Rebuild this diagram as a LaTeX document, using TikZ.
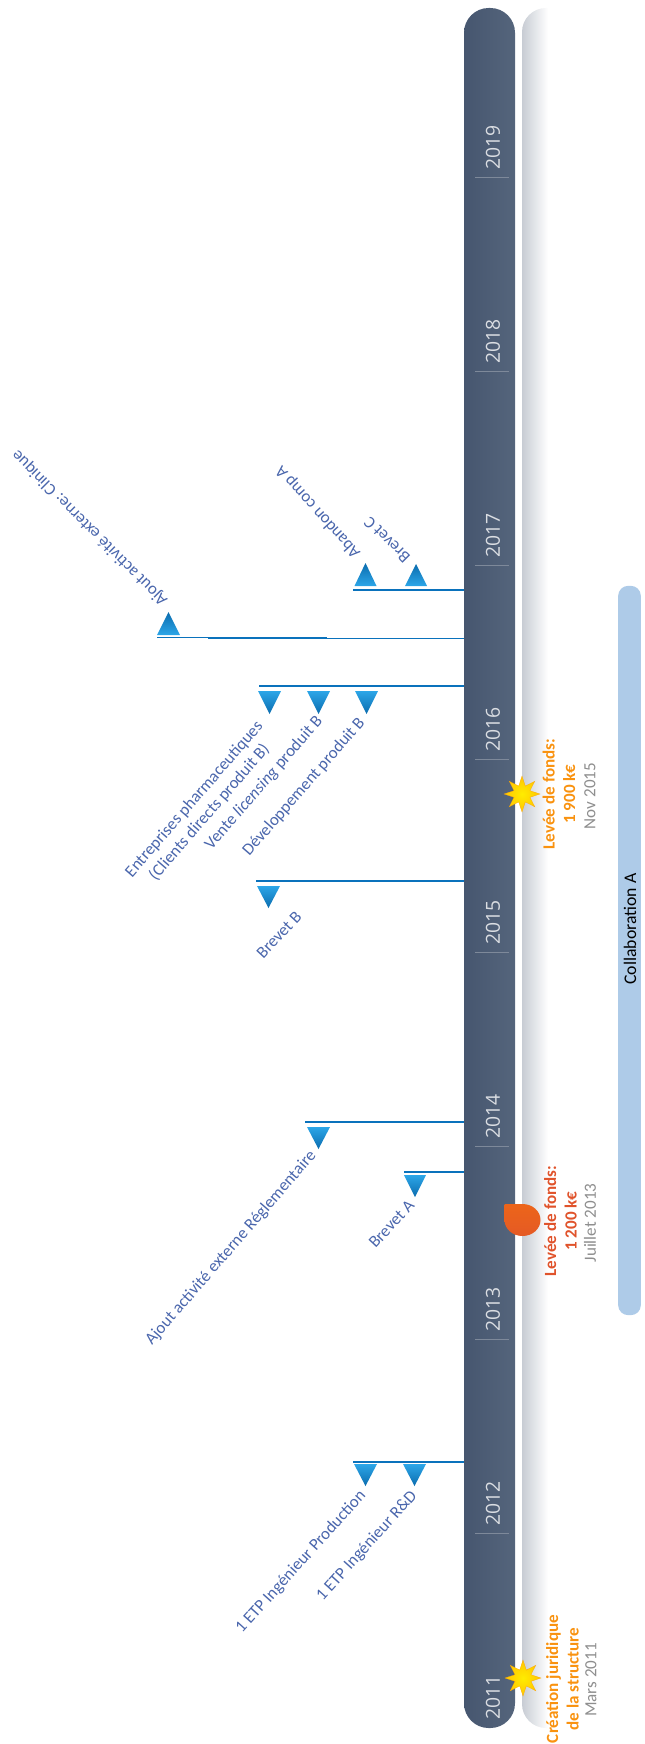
\documentclass[tikz,border=0pt]{standalone}
\usepackage{fontspec}
\setmainfont{Carlito}
\newfontfamily\yearfont{Open Sans}
\usetikzlibrary{shapes}
\usetikzlibrary{shapes.geometric}
\usetikzlibrary{calc}
\definecolor{barleft}{HTML}{46566F}
\definecolor{barright}{HTML}{55657C}
\definecolor{evblue}{HTML}{0A72BC}
\definecolor{evtext}{HTML}{4A66AC}
\definecolor{triLight}{HTML}{2CA6E8}
\definecolor{triDark}{HTML}{0B6CAE}
\definecolor{fundorange}{HTML}{F9920F}
\definecolor{fundred}{HTML}{E0532B}
\definecolor{dategrey}{HTML}{8E8E8E}
\definecolor{collab}{HTML}{AECBE8}
\tikzset{
  yearlabel/.style={rotate=90,text=white!80!barleft,font=\yearfont\fontsize{14.5}{16}\selectfont,inner sep=0pt,anchor=west},
  yeartick/.style={draw=white!30!barleft,line width=.5pt},
  evline/.style={draw=evblue,line width=1.1pt},
  evlabel/.style={text=evtext,font=\fontsize{12.65}{15}\selectfont,align=center,inner sep=0pt},
  tridown/.style={top color=triLight,bottom color=triDark},
  triup/.style={top color=triDark,bottom color=triLight},
  fundlabel/.style={rotate=90,font=\bfseries\fontsize{12.8}{15.4}\selectfont,align=center,inner sep=0pt},
  datelabel/.style={rotate=90,text=dategrey,font=\fontsize{12.8}{15}\selectfont,inner sep=0pt},
  burst/.style={star,star points=8,star point ratio=2.1,minimum size=27pt,inner sep=0pt,inner color=yellow!85!orange,outer color=orange!45!yellow,draw=orange!70!yellow,line width=.2pt}
}
\begin{document}
\begin{tikzpicture}[x=.75pt,y=-.75pt]
\useasboundingbox (0,0) rectangle (645,1744);
\shade[left color=white!70!barleft,right color=white,rounded corners=18pt] (548,8) -- (522,8) -- (522,1728) [sharp corners] -- (548,1728) -- cycle;
\node[rectangle,rounded corners=18.5pt,left color=barleft,right color=barright,minimum width=38.25pt,minimum height=1290pt,inner sep=0pt] (bar) at (489.5,868) {};
\node[rectangle,rounded corners=7.5pt,fill=collab,minimum width=17pt,minimum height=547pt,inner sep=0pt] (collabbar) at (629.5,950.5) {};
\node[rotate=90,font=\fontsize{13.3}{15}\selectfont] (collabtext) at (630,929) {Collaboration A};

\node[yearlabel] (y2011) at (493,1720) {2011};
\node[yearlabel] (y2012) at (493,1526) {2012};
\node[yearlabel] (y2013) at (493,1332) {2013};
\node[yearlabel] (y2014) at (493,1139) {2014};
\node[yearlabel] (y2015) at (493,945) {2015};
\node[yearlabel] (y2016) at (493,752) {2016};
\node[yearlabel] (y2017) at (493,558) {2017};
\node[yearlabel] (y2018) at (493,364) {2018};
\node[yearlabel] (y2019) at (493,170) {2019};
\draw[yeartick] (475,1533) -- (509,1533);
\draw[yeartick] (475,1339) -- (509,1339);
\draw[yeartick] (475,1146) -- (509,1146);
\draw[yeartick] (475,952) -- (509,952);
\draw[yeartick] (475,759) -- (509,759);
\draw[yeartick] (475,565) -- (509,565);
\draw[yeartick] (475,371) -- (509,371);
\draw[yeartick] (475,177) -- (509,177);

\coordinate (l2017) at (353,590);
\coordinate (l2016c) at (157,637.5);
\coordinate (l2016cend) at (327,637.5);
\coordinate (l2016b) at (208,638.5);
\coordinate (l2016a) at (259,686);
\coordinate (l2015) at (256,881);
\coordinate (l2014) at (305,1122);
\coordinate (l2013) at (404,1172);
\coordinate (l2012) at (353,1462);
\draw[evline] (l2017) -- (l2017 -| bar.west);
\draw[evline] (l2016c) -- (l2016cend);
\draw[evline] (l2016b) -- (l2016b -| bar.west);
\draw[evline] (l2016a) -- (l2016a -| bar.west);
\draw[evline] (l2015) -- (l2015 -| bar.west);
\draw[evline] (l2014) -- (l2014 -| bar.west);
\draw[evline] (l2013) -- (l2013 -| bar.west);
\draw[evline] (l2012) -- (l2012 -| bar.west);

\shade[triup] (354.5,586) -- (376.5,586) -- (365.5,563) -- cycle;
\shade[triup] (405,586) -- (427,586) -- (416,564) -- cycle;
\shade[triup] (157,635) -- (180,635) -- (168.5,612) -- cycle;
\shade[tridown] (258,691) -- (281,691) -- (269.5,714) -- cycle;
\shade[tridown] (307,691) -- (330,691) -- (318.5,714) -- cycle;
\shade[tridown] (355,691) -- (378,691) -- (366.5,714) -- cycle;
\shade[tridown] (257,886) -- (280,886) -- (268.5,908) -- cycle;
\shade[tridown] (307,1127) -- (330,1127) -- (318.5,1149) -- cycle;
\shade[tridown] (404,1175) -- (426,1175) -- (415,1197) -- cycle;
\shade[tridown] (354,1464) -- (377,1464) -- (365.5,1486) -- cycle;
\shade[tridown] (403,1464) -- (426,1464) -- (414.5,1486) -- cycle;

\node[evlabel,rotate=135] (clinique) at (90,528) {Ajout activité externe: Clinique};
\node[evlabel,rotate=132] (abandon) at (318,512) {Abandon comp A};
\node[evlabel,rotate=135] (brevetc) at (387,540) {Brevet C};
\node[evlabel,rotate=49] (pharma) at (202,806) {Entreprises pharmaceutiques\\(Clients directs produit B)};
\node[evlabel,rotate=49] (vente) at (264,783) {Vente \textit{licensing} produit B};
\node[evlabel,rotate=49] (devprod) at (304,787) {Développement produit B};
\node[evlabel,rotate=47] (brevetb) at (279,935) {Brevet B};
\node[evlabel,rotate=49] (regl) at (231,1248) {Ajout activité externe Réglementaire};
\node[evlabel,rotate=47] (breveta) at (391.5,1224) {Brevet A};
\node[evlabel,rotate=48] (etpprod) at (301,1562) {1 ETP Ingénieur Production};
\node[evlabel,rotate=48] (etprd) at (367,1546) {1 ETP Ingénieur R\&D};

\node[burst] (star2011) at (523,1678) {};
\node[burst] (star2015) at (522,794) {};
\shade[top color=fundred!60!orange,bottom color=fundred!85!orange] (504.5,1204) -- (522.5,1204) arc[start angle=-90,end angle=180,x radius=18,y radius=16] -- cycle;

\node[fundlabel,text=fundorange] (fund2011) at (562.5,1679) {Création juridique\\de la structure};
\node[datelabel] (date2011) at (591,1680) {Mars 2011};
\node[fundlabel,text=fundorange] (fund2015) at (559,794) {Levée de fonds:\\1 900 k€};
\node[datelabel] (date2015) at (590,796) {Nov 2015};
\node[fundlabel,text=fundred] (fund2013) at (560.5,1221) {Levée de fonds:\\1 200 k€};
\node[datelabel] (date2013) at (590,1223) {Juillet 2013};
\end{tikzpicture}
\end{document}
